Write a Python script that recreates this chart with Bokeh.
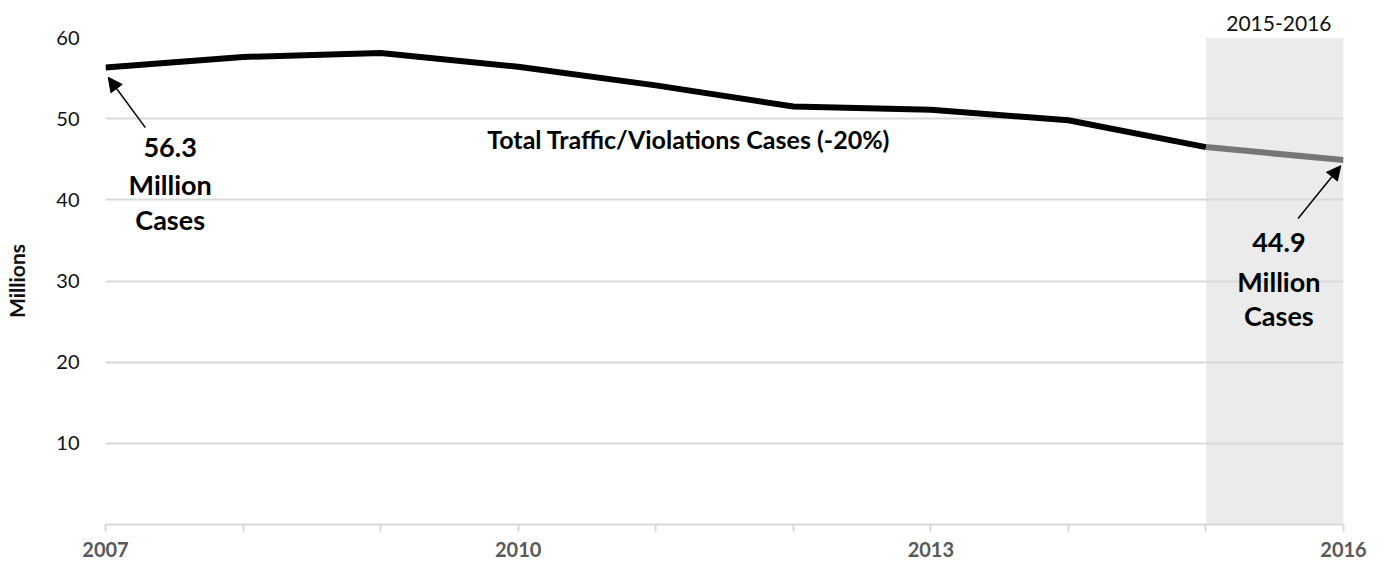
from bokeh.plotting import figure
from bokeh.models import FixedTicker, Label, Arrow, NormalHead, Range1d
from bokeh.embed import file_html
from bokeh.resources import INLINE

years = [2007, 2008, 2009, 2010, 2011, 2012, 2013, 2014, 2015, 2016]
cases_millions = [56.3, 57.6, 58.1, 56.4, 54.1, 51.5, 51.1, 49.8, 46.5, 44.9]
y_ticks = [10, 20, 30, 40, 50, 60]
x_labelled = [2007, 2010, 2013, 2016]
shade_years = [2015, 2016]
shade_label = "2015-2016"

FONT = "Lato"
TEXT = "#111111"

p = figure(width=1383, height=567, output_backend="svg", toolbar_location=None,
           x_range=Range1d(2007, 2016), y_range=Range1d(0, 60),
           min_border_left=105, min_border_right=40, min_border_top=37, min_border_bottom=43)
p.outline_line_color = None
p.background_fill_color = "white"

# period label as right-aligned title above the shaded band
p.title.text = shade_label
p.title.align = "right"
p.title.vertical_align = "middle"
p.title.offset = 12
p.title.text_font = FONT
p.title.text_font_style = "normal"
p.title.text_font_size = "21px"
p.title.text_color = TEXT
p.title.standoff = 11

# shaded period
p.quad(left=[shade_years[0]], right=[shade_years[1]], bottom=[0], top=[60],
       fill_color="#EBEBEB", line_color=None, level="image")

# lines
n = years.index(shade_years[0])
p.line(years[:n + 1], cases_millions[:n + 1], line_color="black", line_width=6,
       line_join="round")
p.line(years[n:], cases_millions[n:], line_color="#767676", line_width=6,
       line_join="round")

# axes
p.xaxis.ticker = FixedTicker(ticks=years)
p.xaxis.major_label_overrides = {y: (str(y) if y in x_labelled else "") for y in years}
p.xaxis.axis_line_color = "#D9D9D9"
p.xaxis.axis_line_width = 2
p.xaxis.major_tick_line_color = "#D9D9D9"
p.xaxis.major_tick_line_width = 2
p.xaxis.major_tick_out = 7
p.xaxis.major_tick_in = 0
p.xaxis.minor_tick_line_color = None
p.xaxis.major_label_standoff = 10
p.xaxis.major_label_text_font = FONT
p.xaxis.major_label_text_font_style = "bold"
p.xaxis.major_label_text_font_size = "20px"
p.xaxis.major_label_text_color = "#595959"

p.yaxis.ticker = FixedTicker(ticks=y_ticks)
p.yaxis.axis_line_color = None
p.yaxis.major_tick_line_color = None
p.yaxis.minor_tick_line_color = None
p.yaxis.major_label_standoff = 20
p.yaxis.major_label_text_font = FONT
p.yaxis.major_label_text_font_size = "20px"
p.yaxis.major_label_text_color = TEXT
p.yaxis.axis_label = "Millions"
p.yaxis.axis_label_text_font = FONT
p.yaxis.axis_label_text_font_style = "bold"
p.yaxis.axis_label_text_font_size = "21px"
p.yaxis.axis_label_text_color = TEXT
p.yaxis.axis_label_standoff = 24

p.xgrid.grid_line_color = None
p.ygrid.ticker = FixedTicker(ticks=y_ticks)
p.ygrid.grid_line_color = "#D9D9D9"
p.ygrid.grid_line_width = 2

# annotations
p.add_layout(Label(x=2011.24, y=47.55, text="Total Traffic/Violations Cases (-20%)",
                   text_align="center", text_baseline="middle", text_font=FONT,
                   text_font_style="bold", text_font_size="25px", text_color="black"))

left_lines = ["56.3", "Million", "Cases"]
left_y = [46.5, 41.9, 37.6]
for t, yy in zip(left_lines, left_y):
    p.add_layout(Label(x=2007.47, y=yy, text=t, text_align="center", text_baseline="middle",
                       text_font=FONT, text_font_style="bold", text_font_size="27px",
                       text_color="black"))
right_lines = ["44.9", "Million", "Cases"]
right_y = [34.8, 30.0, 25.7]
for t, yy in zip(right_lines, right_y):
    p.add_layout(Label(x=2015.53, y=yy, text=t, text_align="center", text_baseline="middle",
                       text_font=FONT, text_font_style="bold", text_font_size="27px",
                       text_color="black"))

p.add_layout(Arrow(end=NormalHead(size=14, fill_color="black", line_color="black"),
                   x_start=2007.29, y_start=48.9, x_end=2007.02, y_end=55.1,
                   line_color="black", line_width=1.5))
p.add_layout(Arrow(end=NormalHead(size=14, fill_color="black", line_color="black"),
                   x_start=2015.67, y_start=37.7, x_end=2015.98, y_end=44.2,
                   line_color="black", line_width=1.5))

open("out.html", "w").write(file_html(p, INLINE))
